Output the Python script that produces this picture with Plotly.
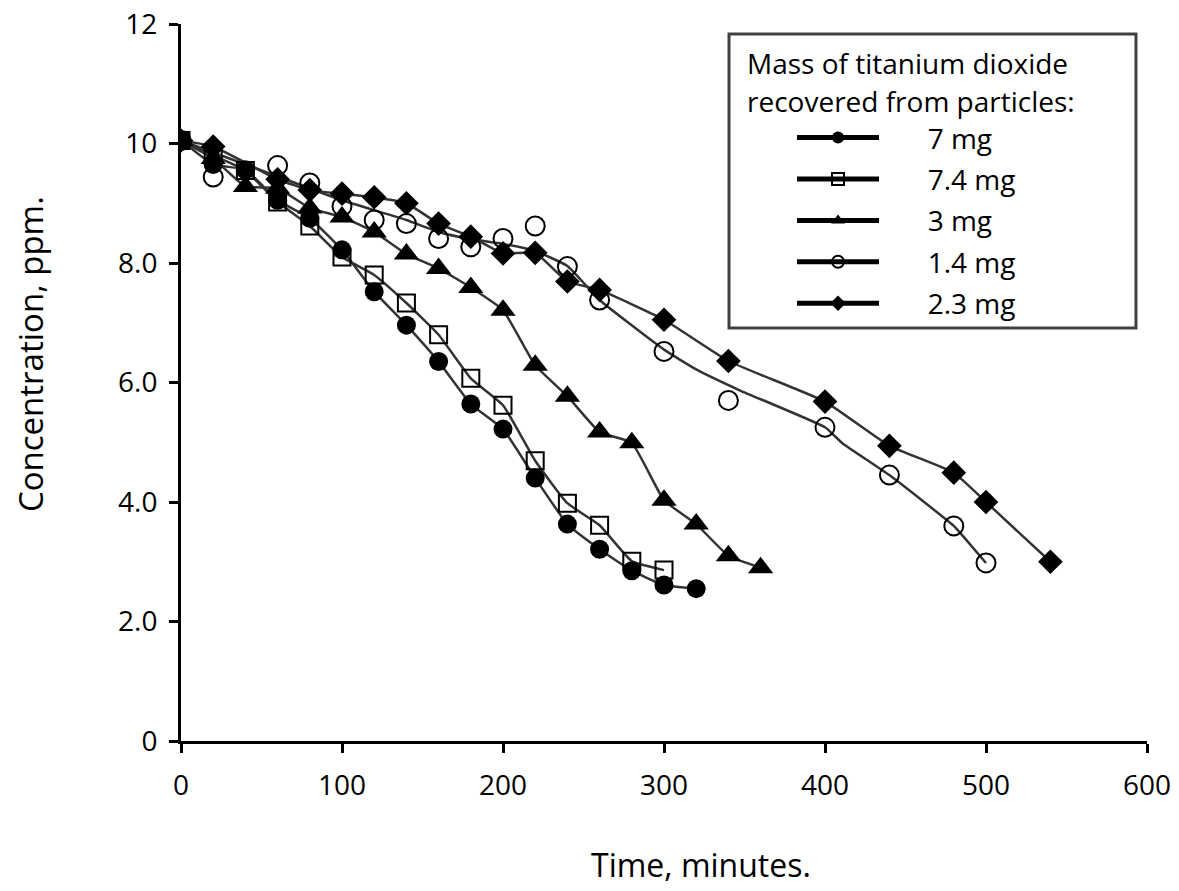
import plotly.graph_objects as go

# ---- data ----
t_7 = [0, 20, 40, 60, 80, 100, 120, 140, 160, 180, 200, 220, 240, 260, 280, 300, 320]
c_7 = [10.05, 9.65, 9.56, 9.05, 8.75, 8.22, 7.52, 6.96, 6.35, 5.64, 5.22, 4.40, 3.63, 3.21, 2.85, 2.61, 2.55]

t_74 = [0, 20, 40, 60, 80, 100, 120, 140, 160, 180, 200, 220, 240, 260, 280, 300]
c_74 = [10.05, 9.8, 9.55, 9.02, 8.62, 8.1, 7.8, 7.33, 6.8, 6.07, 5.62, 4.69, 3.98, 3.61, 3.01, 2.86]

t_3 = [0, 20, 40, 60, 80, 100, 120, 140, 160, 180, 200, 220, 240, 260, 280, 300, 320, 340, 360]
c_3 = [10.05, 9.75, 9.28, 9.25, 8.92, 8.77, 8.52, 8.15, 7.91, 7.59, 7.21, 6.29, 5.77, 5.17, 4.99, 4.03, 3.63, 3.1, 2.9]

t_14 = [0, 20, 60, 80, 100, 120, 140, 160, 180, 200, 220, 240, 260, 300, 340, 400, 440, 480, 500]
c_14 = [10.05, 9.44, 9.63, 9.34, 8.95, 8.72, 8.66, 8.41, 8.27, 8.41, 8.62, 7.94, 7.38, 6.52, 5.70, 5.25, 4.45, 3.6, 2.98]
# smoothed trend line drawn for the 1.4 mg series
t_14_line = [0, 20, 60, 100, 140, 160, 180, 200, 220, 240, 260, 300, 320, 347, 400, 411, 440, 480, 486, 500]
c_14_line = [10.05, 9.85, 9.45, 9.05, 8.72, 8.52, 8.4, 8.32, 8.2, 7.95, 7.38, 6.55, 6.22, 5.87, 5.25, 4.98, 4.45, 3.6, 3.42, 2.98]

t_23 = [0, 20, 60, 80, 100, 120, 140, 160, 180, 200, 220, 240, 260, 300, 340, 400, 440, 480, 500, 540]
c_23 = [10.05, 9.95, 9.4, 9.22, 9.16, 9.1, 9.0, 8.66, 8.44, 8.16, 8.17, 7.69, 7.55, 7.05, 6.36, 5.68, 4.94, 4.49, 4.0, 3.0]

series_names = ["7 mg", "7.4 mg", "3 mg", "1.4 mg", "2.3 mg"]
legend_title_lines = ["Mass of titanium dioxide", "recovered from particles:"]

y_tickvals = [0, 2, 4, 6, 8, 10, 12]
y_ticktext = ["0", "2.0", "4.0", "6.0", "8.0", "10", "12"]
x_tickvals = [0, 100, 200, 300, 400, 500, 600]

FONT = "'Open Sans', sans-serif"
LINE_COL = "#333333"
MK = "black"
NB = "\u00a0" * 6

series = [
    (series_names[0], t_7, c_7, t_7, c_7, dict(symbol="circle", size=19, color=MK)),
    (series_names[1], t_74, c_74, t_74, c_74,
     dict(symbol="square-open", size=17, color=MK, line=dict(width=2, color=MK))),
    (series_names[2], t_3, c_3, t_3, c_3, dict(symbol="triangle-up", size=22, color=MK)),
    (series_names[3], t_14, c_14, t_14_line, c_14_line,
     dict(symbol="circle-open", size=19, color=MK, line=dict(width=2, color=MK))),
    (series_names[4], t_23, c_23, t_23, c_23, dict(symbol="diamond", size=19, color=MK)),
]

fig = go.Figure()
for i, (name, tx, cy, lx, ly, mk) in enumerate(series):
    fig.add_trace(go.Scatter(x=lx, y=ly, mode="lines", showlegend=False,
                             line=dict(color=LINE_COL, width=2.5, shape="spline", smoothing=0.4),
                             hoverinfo="skip"))
for i, (name, tx, cy, lx, ly, mk) in enumerate(series):
    fig.add_trace(go.Scatter(x=tx, y=cy, mode="markers", showlegend=False, marker=mk, name=name))
for i, (name, tx, cy, lx, ly, mk) in enumerate(series):
    lmk = dict(mk)
    lmk["size"] = 14
    fig.add_trace(go.Scatter(x=[None], y=[None], mode="lines+markers", name=NB + name,
                             legendgroup=f"g{i}", marker=lmk,
                             line=dict(color="black", width=3)))

fig.update_layout(
    width=1179, height=891,
    margin=dict(l=181, r=32, t=24, b=150, autoexpand=False),
    paper_bgcolor="white", plot_bgcolor="white",
    font=dict(family=FONT, size=28, color="black"),
    showlegend=True,
    legend=dict(
        x=0.5673, y=0.876, xanchor="left", yanchor="top",
        bgcolor="rgba(0,0,0,0)", borderwidth=0,
        font=dict(family=FONT, size=28),
        itemwidth=82, indentation=63, tracegroupgap=2,
        itemsizing="constant",
    ),
    xaxis=dict(range=[0, 600], tickvals=x_tickvals, showgrid=False, zeroline=False,
               showline=True, linecolor="black", linewidth=3, automargin=False,
               ticks="outside", ticklen=9, tickwidth=3, tickcolor="black",
               ticklabelstandoff=8, ticklabeloverflow="allow",
               tickfont=dict(family=FONT, size=28)),
    yaxis=dict(range=[0, 12], tickvals=y_tickvals, ticktext=y_ticktext, showgrid=False,
               zeroline=False, showline=True, linecolor="black", linewidth=3, automargin=False,
               ticks="outside", ticklen=9, tickwidth=3, tickcolor="black",
               ticklabelstandoff=6, ticklabeloverflow="allow",
               tickfont=dict(family=FONT, size=28)),
    shapes=[
        dict(type="rect", xref="paper", yref="paper", x0=0.5673, x1=0.9886,
             y0=0.5760, y1=0.9861, line=dict(color="#404040", width=3),
             fillcolor="white", layer="below"),
    ],
    annotations=[
        dict(text=legend_title_lines[0], xref="paper", yref="paper", x=0.5839, y=0.945,
             xanchor="left", yanchor="middle", showarrow=False,
             font=dict(family=FONT, size=28)),
        dict(text=legend_title_lines[1], xref="paper", yref="paper", x=0.5839, y=0.892,
             xanchor="left", yanchor="middle", showarrow=False,
             font=dict(family=FONT, size=28)),
        dict(text="Time, minutes.", xref="paper", yref="paper", x=0.538, y=-0.172,
             xanchor="center", yanchor="middle", showarrow=False,
             font=dict(family=FONT, size=32)),
        dict(text="Concentration, ppm.", xref="paper", yref="paper", x=-0.155, y=0.540,
             xanchor="center", yanchor="middle", textangle=-90, showarrow=False,
             font=dict(family=FONT, size=33)),
    ],
)

fig.write_html("out.html", config={"displayModeBar": False},
               post_script="document.body.style.margin='0px';")
